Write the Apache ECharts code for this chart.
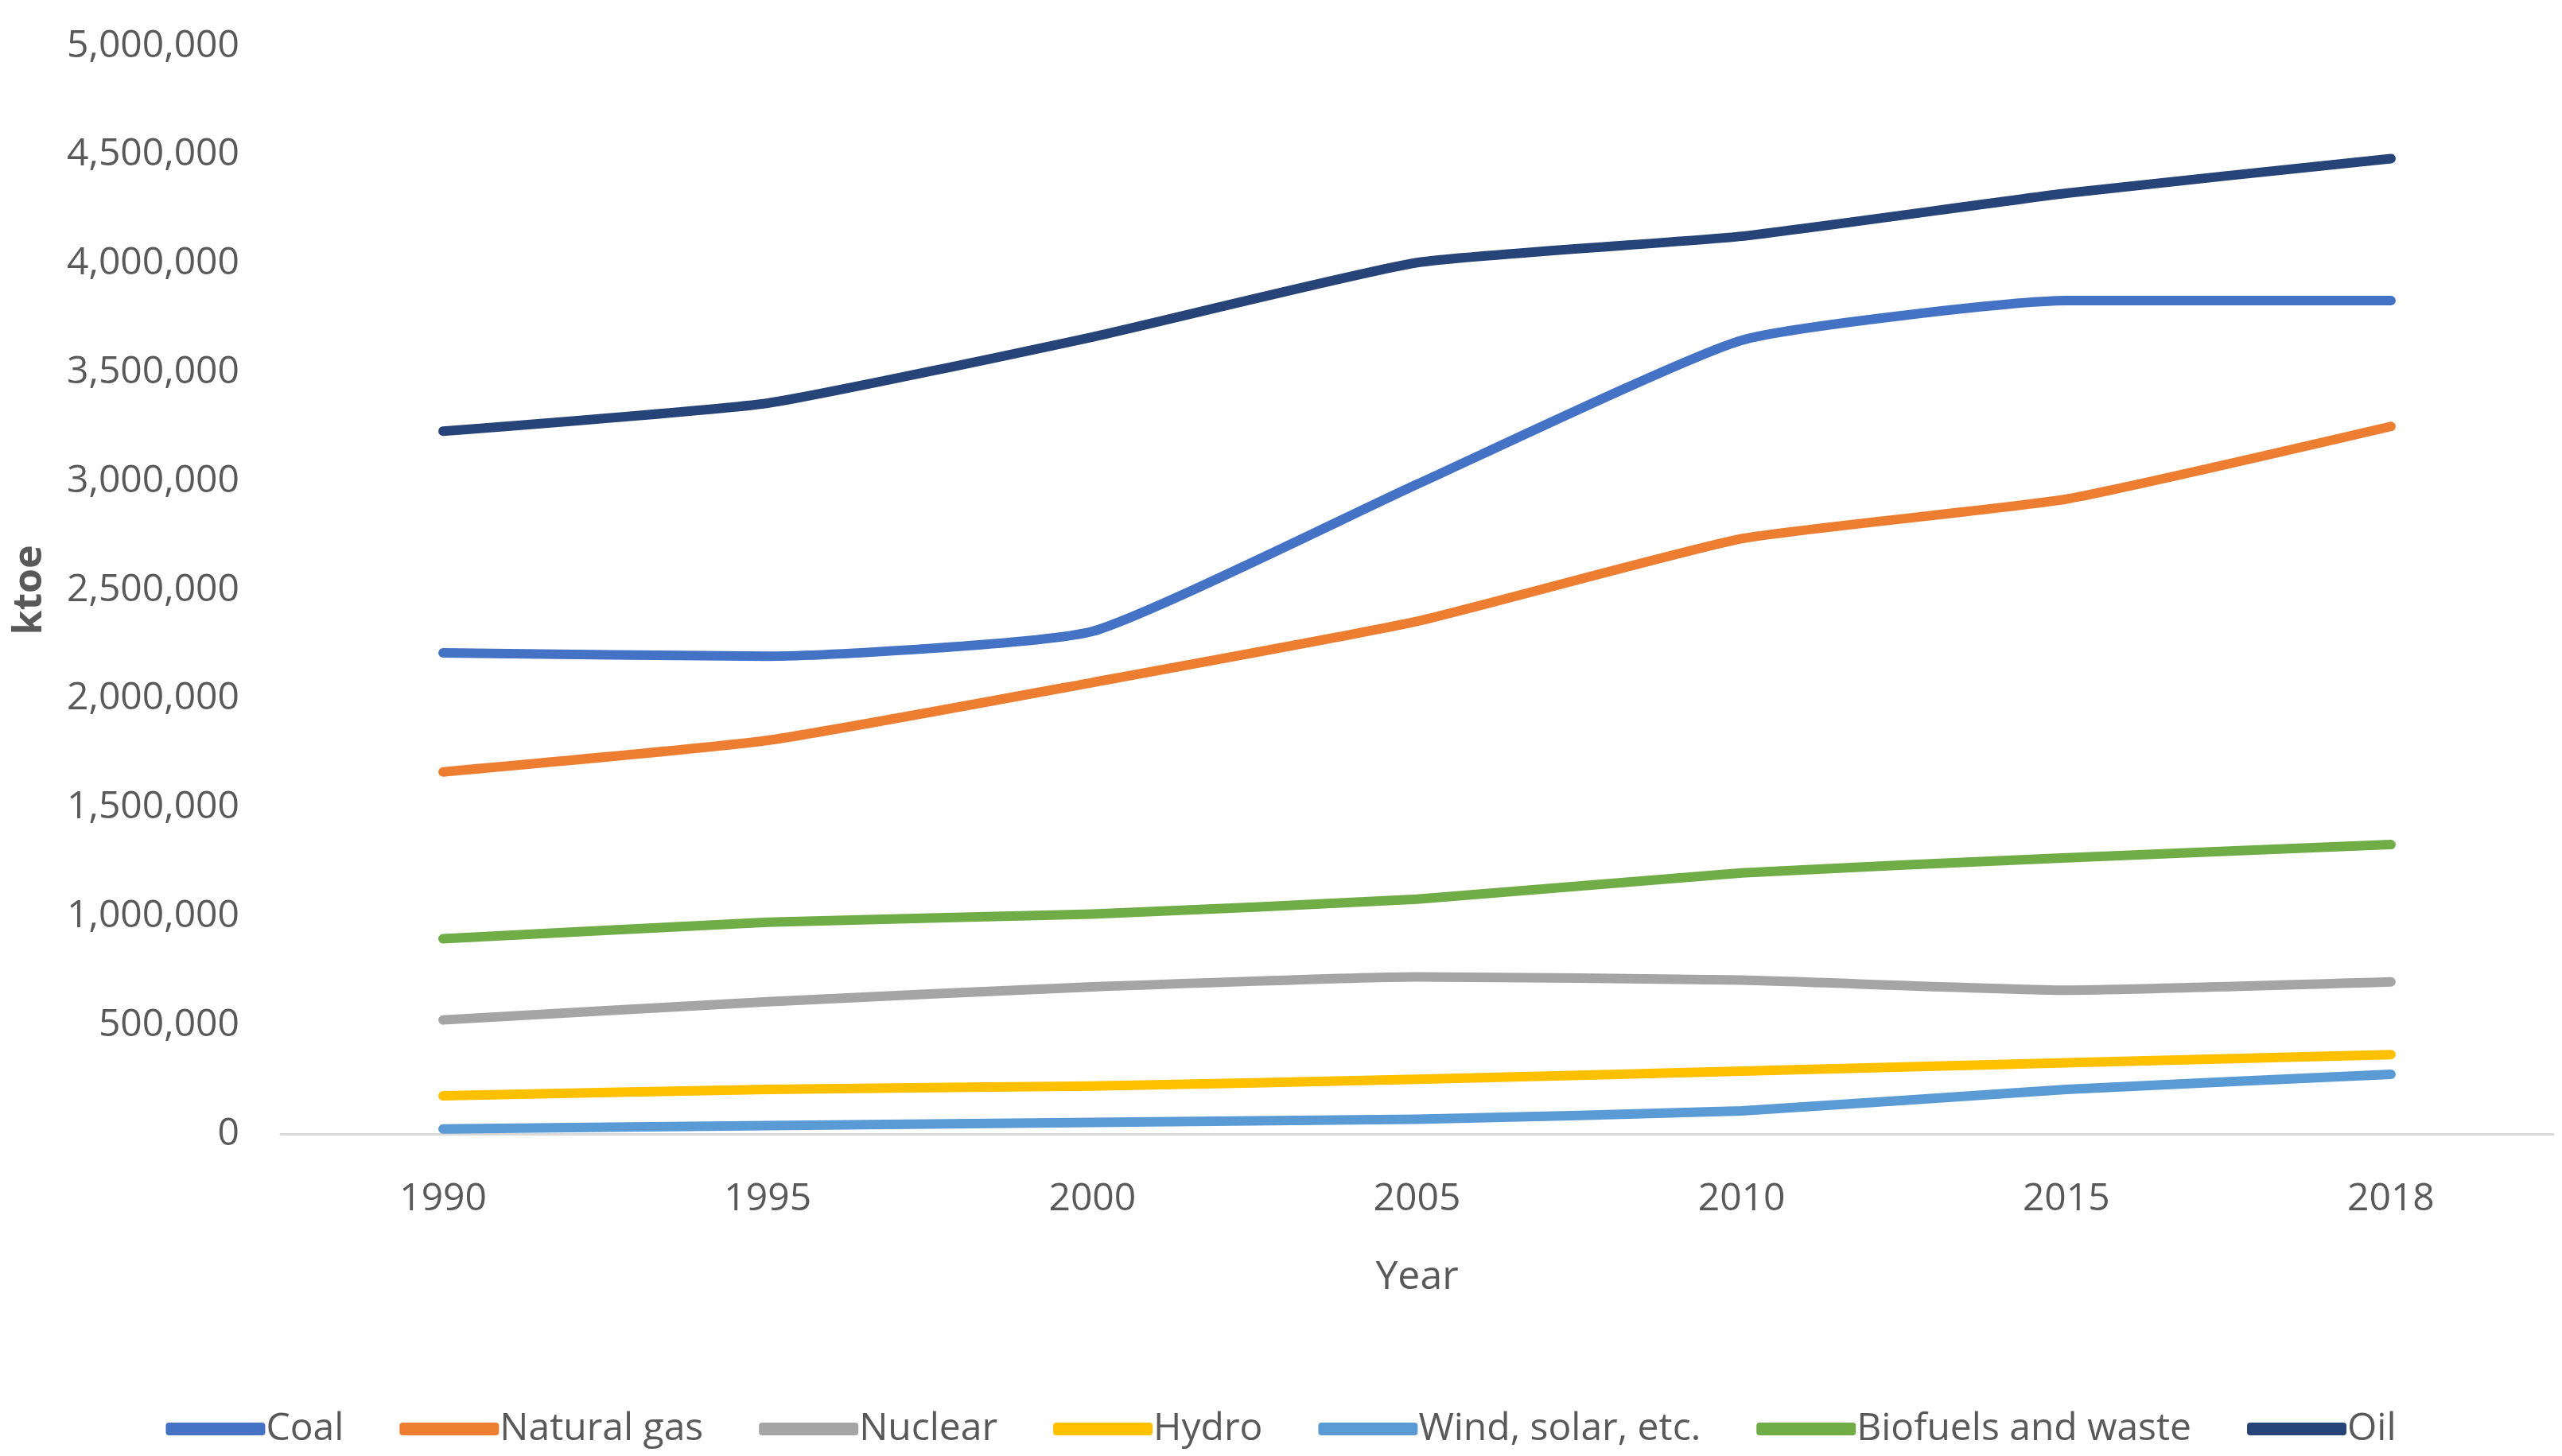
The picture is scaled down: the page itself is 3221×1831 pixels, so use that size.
<!DOCTYPE html>
<html>
<head>
<meta charset="utf-8">
<script src="https://cdn.jsdelivr.net/npm/echarts@6/dist/echarts.min.js"></script>
<style>
html,body{margin:0;padding:0;background:#fff;}
#chart{width:3221px;height:1831px;}
</style>
</head>
<body>
<div id="chart"></div>
<script>
const years = ['1990','1995','2000','2005','2010','2015','2018'];
const coal = [2211000, 2196000, 2310000, 2986000, 3648000, 3830000, 3830000];
const naturalGas = [1664000, 1809000, 2075000, 2356000, 2736000, 2918000, 3252000];
const nuclear = [524000, 608000, 676000, 722000, 707000, 661000, 699000];
const hydro = [175000, 205000, 220000, 251000, 289000, 327000, 365000];
const windSolar = [23000, 38000, 53000, 68000, 106000, 205000, 274000];
const biofuels = [897000, 973000, 1011000, 1079000, 1200000, 1269000, 1330000];
const oil = [3230000, 3359000, 3663000, 4005000, 4126000, 4324000, 4483000];

const seriesNames = ['Coal','Natural gas','Nuclear','Hydro','Wind, solar, etc.','Biofuels and waste','Oil'];
const seriesData = [coal, naturalGas, nuclear, hydro, windSolar, biofuels, oil];
const colors = ['#4472C4','#ED7D31','#A5A5A5','#FFC000','#5B9BD5','#70AD47','#264478'];

const FONT = 'Open Sans';
const TXT = '#595959';

const chart = echarts.init(document.getElementById('chart'));
chart.setOption({
  backgroundColor: '#fff',
  animation: false,
  textStyle: {fontFamily: FONT},
  grid: {left: 353, right: 11, top: 58, bottom: 405, containLabel: false},
  legend: {
    data: seriesNames,
    left: 'center',
    top: 1768,
    itemWidth: 125,
    itemHeight: 16,
    itemGap: 70,
    icon: 'roundRect',
    textStyle: {fontFamily: FONT, fontSize: 48, color: TXT, padding: [0,0,0,-4]},
  },
  xAxis: {
    type: 'category',
    data: years,
    boundaryGap: true,
    axisLine: {show: true, lineStyle: {color: '#D9D9D9', width: 3}},
    axisTick: {show: false},
    axisLabel: {fontFamily: FONT, fontSize: 48, color: TXT, margin: 58},
    name: 'Year',
    nameLocation: 'middle',
    nameGap: 156,
    nameTextStyle: {fontFamily: FONT, fontSize: 50, color: TXT}
  },
  yAxis: {
    type: 'value',
    min: 0,
    max: 5000000,
    interval: 500000,
    axisLine: {show: false},
    axisTick: {show: false},
    splitLine: {show: false},
    axisLabel: {
      fontFamily: FONT, fontSize: 48, color: TXT, margin: 52,
      formatter: v => v.toLocaleString('en-US')
    },
    name: 'ktoe',
    nameLocation: 'middle',
    nameGap: 290,
    nameRotate: 90,
    nameTextStyle: {fontFamily: FONT, fontSize: 50, color: TXT, fontWeight: 'bold'}
  },
  series: seriesNames.map((n, i) => ({
    name: n,
    type: 'line',
    data: seriesData[i],
    smooth: 0.15,
    showSymbol: false,
    symbol: 'none',
    lineStyle: {color: colors[i], width: 12, cap: 'round', join: 'round'},
    itemStyle: {color: colors[i]}
  }))
});
</script>
</body>
</html>
